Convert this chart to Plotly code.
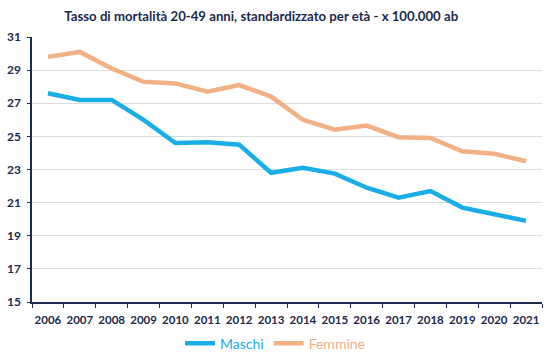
import plotly.graph_objects as go

anni = [str(y) for y in range(2006, 2022)]
maschi = [27.6, 27.2, 27.2, 26.0, 24.6, 24.65, 24.5, 22.8, 23.1, 22.75, 21.9, 21.3, 21.7, 20.7, 20.3, 19.9]
femmine = [29.8, 30.1, 29.1, 28.3, 28.2, 27.7, 28.1, 27.4, 26.0, 25.4, 25.65, 24.95, 24.9, 24.1, 23.95, 23.5]
titolo = "Tasso di mortalità 20-49 anni, standardizzato per età - x 100.000 ab"

navy = "#1B2A4E"
blu = "#19AEE6"
arancio = "#F2B085"
fig = go.Figure()
fig.add_trace(go.Scatter(x=anni, y=maschi, name=f"<span style='color:{blu}'>Maschi</span>",
                         mode="lines", line=dict(color=blu, width=4.5)))
fig.add_trace(go.Scatter(x=anni, y=femmine, name=f"<span style='color:{arancio}'>Femmine</span>",
                         mode="lines", line=dict(color=arancio, width=4.5)))

fig.update_layout(
    width=550, height=358,
    margin=dict(l=32, r=8, t=37, b=56, autoexpand=False),
    paper_bgcolor="white", plot_bgcolor="white",
    title=dict(text=titolo, xref="container", x=0.475, xanchor="center",
               yref="container", y=0.955, yanchor="middle", pad=dict(t=0, b=0),
               font=dict(family="Lato", size=13.2, color=navy, weight="bold")),
    showlegend=True,
    legend=dict(orientation="h", xref="container", x=0.5, xanchor="center",
                yref="container", y=0.04, yanchor="middle",
                font=dict(family="Lato", size=14),
                itemwidth=30, tracegroupgap=0),
    font=dict(family="Lato"),
)

fig.update_xaxes(type="category", range=[-0.5, 15.5], automargin=False,
                 showline=True, linecolor=navy, linewidth=1.5,
                 ticks="outside", tickson="boundaries", ticklen=4, tickcolor=navy,
                 tickangle=0, ticklabelstandoff=6,
                 tickfont=dict(family="Lato", size=11.5, color=navy, weight="bold"),
                 showgrid=False)
fig.update_yaxes(range=[15, 31], tick0=15, dtick=2, automargin=False,
                 showline=True, linecolor=navy, linewidth=1.5,
                 ticks="outside", ticklen=3, tickcolor=navy, ticklabelstandoff=4,
                 tickfont=dict(family="Lato", size=12, color=navy, weight="bold"),
                 showgrid=True, gridcolor="#DCDCDC", gridwidth=1, zeroline=False)

fig.write_html("out.html", config={"displayModeBar": False},
               post_script="document.body.style.margin='0';")
